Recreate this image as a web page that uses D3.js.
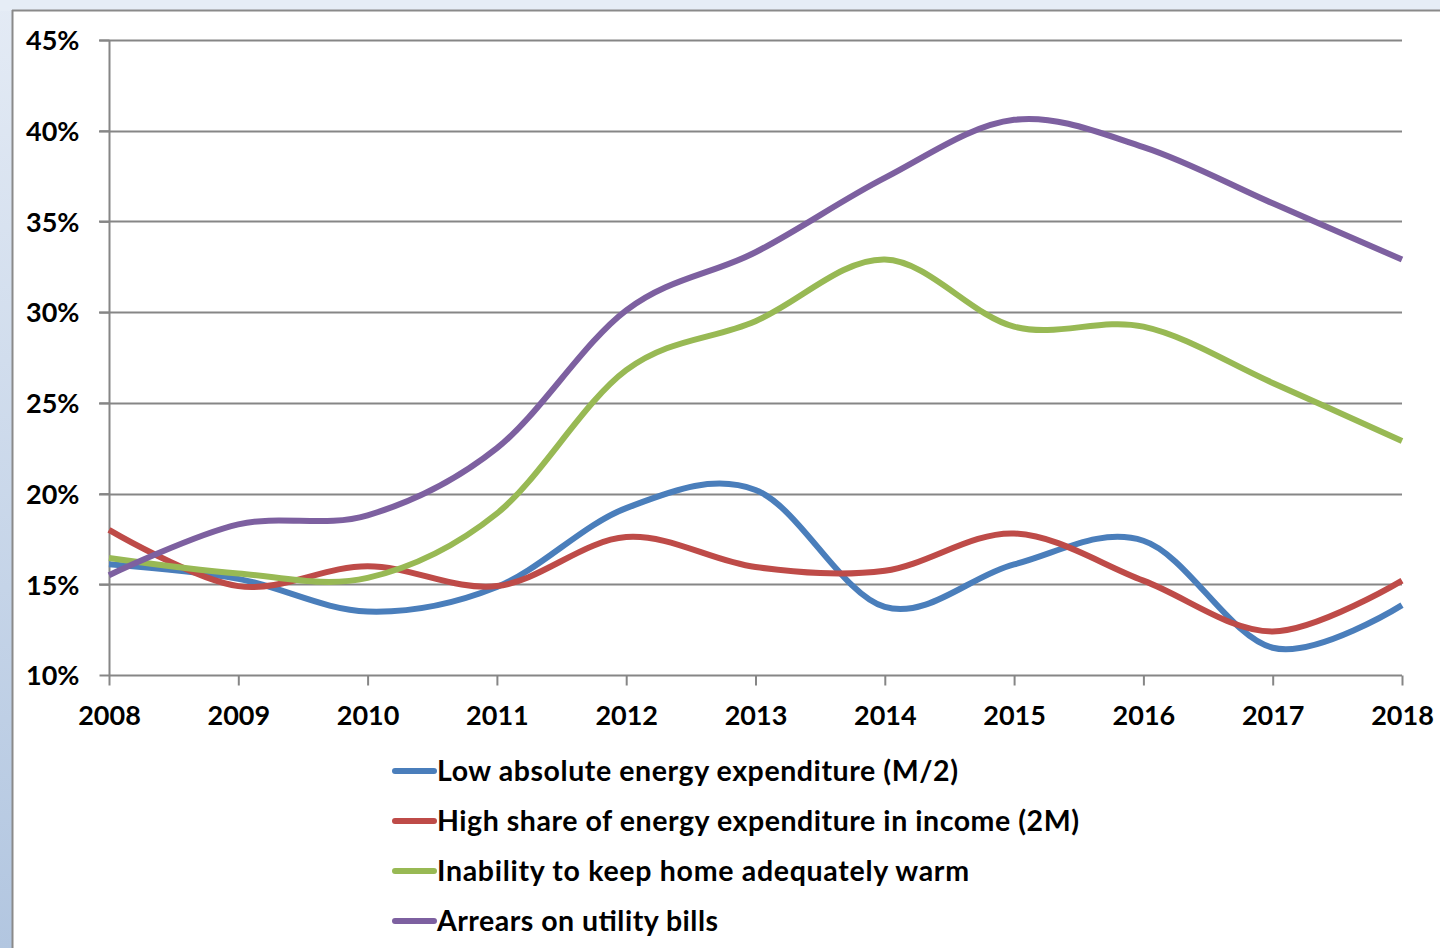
<!DOCTYPE html>
<html>
<head>
<meta charset="utf-8">
<script src="https://cdn.jsdelivr.net/npm/d3@7"></script>
<style>
html,body{margin:0;padding:0;background:#fff;}
svg{display:block;}
</style>
</head>
<body>
<svg id="chart" width="1440" height="948"></svg>
<script>
const years = [2008,2009,2010,2011,2012,2013,2014,2015,2016,2017,2018];
const yTicks = [10,15,20,25,30,35,40,45];
const seriesNames = [
  "Low absolute energy expenditure (M/2)",
  "High share of energy expenditure in income (2M)",
  "Inability to keep home adequately warm",
  "Arrears on utility bills"
];
const lowAbsolute = [16.1,15.3,13.5,14.85,19.2,20.2,13.75,16.1,17.4,11.5,13.85];
const highShare   = [18.0,14.9,16.0,14.9,17.6,15.95,15.75,17.8,15.2,12.4,15.2];
const inability   = [16.45,15.6,15.35,18.9,26.8,29.5,32.9,29.2,29.2,26.1,22.9];
const arrears     = [15.5,18.3,18.8,22.5,30.1,33.3,37.4,40.6,39.1,36.0,32.9];
const colors = ["#4a7ebb","#be4b48","#98b954","#7d60a0"];

const series = [lowAbsolute, highShare, inability, arrears];
const svg = d3.select("#chart");

// slide-like background
const defs = svg.append("defs");
const lg = defs.append("linearGradient").attr("id","leftg").attr("x1",0).attr("y1",0).attr("x2",0).attr("y2",1);
lg.append("stop").attr("offset","0%").attr("stop-color","#e4ebf5");
lg.append("stop").attr("offset","100%").attr("stop-color","#b2c6e0");
svg.append("rect").attr("x",0).attr("y",0).attr("width",1440).attr("height",948).attr("fill","url(#leftg)");
svg.append("rect").attr("x",0).attr("y",0).attr("width",1440).attr("height",11).attr("fill","#e6edf6");
svg.append("rect").attr("x",12).attr("y",10).attr("width",1440).attr("height",948).attr("fill","#fff");
svg.append("line").attr("x1",12).attr("x2",1440).attr("y1",10.5).attr("y2",10.5).attr("stroke","#8a8a8a").attr("stroke-width",2);
svg.append("line").attr("x1",12.5).attr("x2",12.5).attr("y1",10).attr("y2",948).attr("stroke","#8a8a8a").attr("stroke-width",2);

const x = d3.scaleLinear().domain([2008,2018]).range([109,1402]);
const y = d3.scaleLinear().domain([10,45]).range([675,40]);
const axisColor = "#868686";
const font = "Lato, 'Open Sans', sans-serif";

// gridlines
svg.append("g").selectAll("line").data(yTicks.filter(d=>d>10)).join("line")
  .attr("x1",99).attr("x2",1402)
  .attr("y1",d=>Math.round(y(d))+0.5).attr("y2",d=>Math.round(y(d))+0.5)
  .attr("stroke",axisColor).attr("stroke-width",2);

// y axis
const yAxis = d3.axisLeft(y).tickValues(yTicks).tickFormat(d=>d+"%").tickSize(10).tickPadding(20);
const gy = svg.append("g").attr("transform","translate(109.5,0)").call(yAxis);
gy.select(".domain").attr("stroke",axisColor).attr("stroke-width",2).attr("d","M0,40V675");
gy.selectAll(".tick line").attr("stroke",axisColor).attr("stroke-width",2);
gy.selectAll(".tick text").attr("font-family",font).attr("font-weight","bold").attr("font-size",27).attr("fill","#000").attr("x",-30).attr("dy","0.36em");

// x axis
const xAxis = d3.axisBottom(x).tickValues(years).tickFormat(d3.format("d")).tickSize(10).tickPadding(14);
const gx = svg.append("g").attr("transform","translate(0,675.5)").call(xAxis);
gx.select(".domain").attr("stroke",axisColor).attr("stroke-width",2).attr("d","M109,0H1402");
gx.selectAll(".tick line").attr("stroke",axisColor).attr("stroke-width",2);
gx.selectAll(".tick text").attr("font-family",font).attr("font-weight","bold").attr("font-size",27).attr("fill","#000")
  .attr("y",40).attr("dy","0.36em");

// lines
const line = d3.line().x((d,i)=>x(years[i])).y(d=>y(d)).curve(d3.curveCardinal.tension(0));
svg.append("g").selectAll("path").data(series).join("path")
  .attr("d",d=>line(d)).attr("fill","none")
  .attr("stroke",(d,i)=>colors[i]).attr("stroke-width",6).attr("stroke-linejoin","round");

// legend
const legendWidths = [521,642,532,281];
const leg = svg.append("g");
seriesNames.forEach((name,i)=>{
  const yy = 771 + i*50;
  leg.append("line").attr("x1",395).attr("x2",434).attr("y1",yy).attr("y2",yy)
    .attr("stroke",colors[i]).attr("stroke-width",6).attr("stroke-linecap","round");
  leg.append("text").attr("x",437).attr("y",yy).attr("dy","0.36em")
    .attr("font-family",font).attr("font-weight","bold").attr("font-size",28.5).attr("fill","#000")
    .attr("textLength",legendWidths[i]).attr("lengthAdjust","spacing").text(name);
});
</script>
</body>
</html>
